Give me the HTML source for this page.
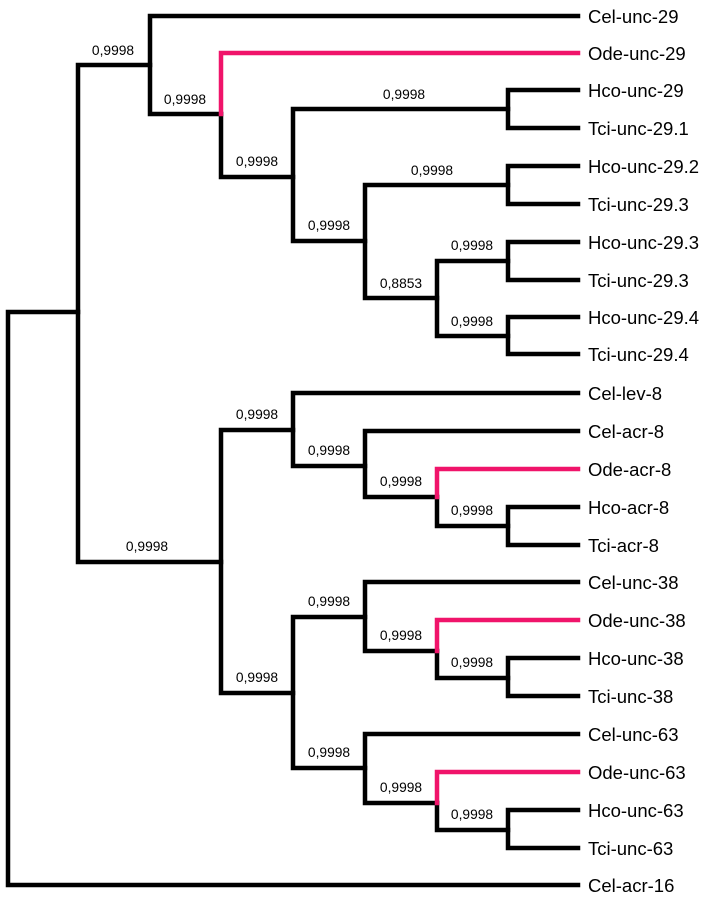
<!DOCTYPE html>
<html><head><meta charset="utf-8"><style>
html,body{margin:0;padding:0;background:#fff;}
svg{display:block;}
text{font-family:"Liberation Sans",sans-serif;}
.l{font-size:18.5px;fill:#000;}
.b{font-size:13.8px;fill:#000;text-anchor:middle;}
</style></head><body>
<svg width="710" height="899" viewBox="0 0 710 899" xmlns="http://www.w3.org/2000/svg">
<g fill="none" stroke="#000" stroke-width="4.5" stroke-linecap="square">
<path d="M8 312 V885 H578 M8 312 H78"/>
<path d="M78 65 V562 M78 65 H150 M78 562 H221"/>
<path d="M150 16 V114 M150 16 H578 M150 114 H221"/>
<path d="M221 114 V177 M221 177 H293"/>
<path d="M293 109 V241 M293 109 H508 M293 241 H365"/>
<path d="M508 90 V128 M508 90 H578 M508 128 H578"/>
<path d="M365 185 V298 M365 185 H508 M365 298 H437"/>
<path d="M508 166 V204 M508 166 H578 M508 204 H578"/>
<path d="M437 261 V336 M437 261 H508 M437 336 H508"/>
<path d="M508 242 V280 M508 242 H578 M508 280 H578"/>
<path d="M508 317 V354 M508 317 H578 M508 354 H578"/>
<path d="M221 430 V693 M221 430 H293 M221 693 H293"/>
<path d="M293 393 V466 M293 393 H578 M293 466 H365"/>
<path d="M365 431 V497 M365 431 H578 M365 497 H437"/>
<path d="M437 497 V526 M437 526 H508"/>
<path d="M508 507 V545 M508 507 H578 M508 545 H578"/>
<path d="M293 617 V768 M293 617 H365 M293 768 H365"/>
<path d="M365 582 V651 M365 582 H578 M365 651 H437"/>
<path d="M437 651 V678 M437 678 H508"/>
<path d="M508 658 V696 M508 658 H578 M508 696 H578"/>
<path d="M365 734 V803 M365 734 H578 M365 803 H437"/>
<path d="M437 803 V830 M437 830 H508"/>
<path d="M508 810 V848 M508 810 H578 M508 848 H578"/>
</g>
<g fill="none" stroke="#f0146a" stroke-width="4.5" stroke-linecap="square">
<path d="M221 114 V53 H578"/>
<path d="M437 497 V469 H578"/>
<path d="M437 651 V620 H578"/>
<path d="M437 803 V772 H578"/>
</g>
<g class="l">
<text x="588" y="23">Cel-unc-29</text>
<text x="588" y="60">Ode-unc-29</text>
<text x="588" y="97">Hco-unc-29</text>
<text x="588" y="135">Tci-unc-29.1</text>
<text x="588" y="173">Hco-unc-29.2</text>
<text x="588" y="211">Tci-unc-29.3</text>
<text x="588" y="249">Hco-unc-29.3</text>
<text x="588" y="287">Tci-unc-29.3</text>
<text x="588" y="324">Hco-unc-29.4</text>
<text x="588" y="361">Tci-unc-29.4</text>
<text x="588" y="400">Cel-lev-8</text>
<text x="588" y="438">Cel-acr-8</text>
<text x="588" y="476">Ode-acr-8</text>
<text x="588" y="514">Hco-acr-8</text>
<text x="588" y="552">Tci-acr-8</text>
<text x="588" y="589">Cel-unc-38</text>
<text x="588" y="627">Ode-unc-38</text>
<text x="588" y="665">Hco-unc-38</text>
<text x="588" y="703">Tci-unc-38</text>
<text x="588" y="741">Cel-unc-63</text>
<text x="588" y="779">Ode-unc-63</text>
<text x="588" y="817">Hco-unc-63</text>
<text x="588" y="855">Tci-unc-63</text>
<text x="588" y="892">Cel-acr-16</text>
</g>
<g class="b">
<text x="113" y="55">0,9998</text>
<text x="185" y="104">0,9998</text>
<text x="257" y="166">0,9998</text>
<text x="404" y="99">0,9998</text>
<text x="329" y="230">0,9998</text>
<text x="432" y="175">0,9998</text>
<text x="401" y="288">0,8853</text>
<text x="472" y="250">0,9998</text>
<text x="472" y="326">0,9998</text>
<text x="147" y="551">0,9998</text>
<text x="257" y="419">0,9998</text>
<text x="329" y="455">0,9998</text>
<text x="401" y="486">0,9998</text>
<text x="472" y="515">0,9998</text>
<text x="257" y="682">0,9998</text>
<text x="329" y="606">0,9998</text>
<text x="401" y="640">0,9998</text>
<text x="472" y="667">0,9998</text>
<text x="329" y="757">0,9998</text>
<text x="401" y="792">0,9998</text>
<text x="472" y="819">0,9998</text>
</g>
</svg>
</body></html>
